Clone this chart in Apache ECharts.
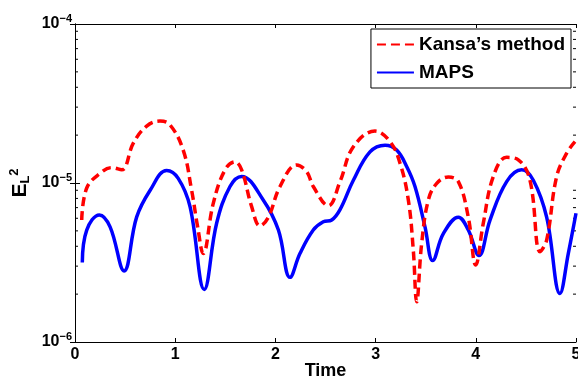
<!DOCTYPE html>
<html>
<head>
<meta charset="utf-8">
<script src="https://cdn.jsdelivr.net/npm/echarts@6/dist/echarts.min.js"></script>
<style>
  html, body { margin: 0; padding: 0; background: #fff; }
  #main { width: 578px; height: 380px; }
</style>
</head>
<body>
<div id="main"></div>
<script>
(function () {
    'use strict';

    // values, [time, error]
    var kansaData = [
        [0.067, 5.85e-6], [0.117, 9.3e-6], [0.25, 1.15e-5], [0.366, 1.25e-5], [0.466, 1.21e-5],
        [0.582, 1.78e-5], [0.715, 2.28e-5], [0.848, 2.45e-5], [0.948, 2.32e-5], [1.08, 1.61e-5],
        [1.164, 9.0e-6], [1.224, 5.3e-6], [1.28, 3.6e-6], [1.38, 7.45e-6], [1.497, 1.21e-5],
        [1.597, 1.36e-5], [1.663, 1.21e-5], [1.763, 7.1e-6], [1.846, 5.37e-6], [1.93, 6.1e-6],
        [2.046, 9.5e-6], [2.212, 1.3e-5], [2.312, 1.18e-5], [2.378, 9.5e-6], [2.528, 7.2e-6],
        [2.645, 1.02e-5], [2.778, 1.69e-5], [2.994, 2.12e-5], [3.144, 1.82e-5], [3.244, 1.33e-5],
        [3.327, 7.8e-6], [3.376, 3.8e-6], [3.41, 1.79e-6], [3.46, 4.18e-6], [3.526, 7.8e-6],
        [3.61, 9.95e-6], [3.726, 1.09e-5], [3.826, 1.02e-5], [3.925, 6.1e-6], [3.999, 3.05e-6],
        [4.075, 5.6e-6], [4.175, 1.1e-5], [4.308, 1.45e-5], [4.424, 1.40e-5], [4.541, 1.04e-5],
        [4.641, 3.7e-6], [4.707, 4.38e-6], [4.807, 1.1e-5], [4.907, 1.54e-5], [4.99, 1.82e-5]
    ];
    var mapsData = [
        [0.073, 3.16e-6], [0.117, 5.06e-6], [0.243, 6.3e-6], [0.35, 5.3e-6], [0.49, 2.8e-6],
        [0.615, 6.1e-6], [0.75, 9.0e-6], [0.915, 1.2e-5], [1.03, 1.07e-5], [1.148, 7.1e-6],
        [1.29, 2.14e-6], [1.414, 5.6e-6], [1.547, 9.5e-6], [1.663, 1.1e-5], [1.88, 7.8e-6],
        [2.03, 5.06e-6], [2.146, 2.55e-6], [2.245, 3.6e-6], [2.378, 5.06e-6], [2.478, 5.7e-6],
        [2.562, 5.85e-6], [2.645, 6.8e-6], [2.778, 1.04e-5], [2.944, 1.57e-5], [3.094, 1.73e-5],
        [3.21, 1.61e-5], [3.31, 1.27e-5], [3.393, 9.5e-6], [3.493, 5.3e-6], [3.57, 3.25e-6],
        [3.676, 4.8e-6], [3.826, 6.1e-6], [3.925, 5.06e-6], [4.032, 3.5e-6], [4.142, 5.85e-6],
        [4.308, 1.02e-5], [4.458, 1.21e-5], [4.574, 1.04e-5], [4.707, 6.1e-6], [4.84, 2.02e-6],
        [4.923, 3.6e-6], [5.0, 6.45e-6]
    ];
    var seriesNames = ['Kansa\u2019s method', 'MAPS'];
    var xTicks = [0, 1, 2, 3, 4, 5];
    // log minor ticks (2..9 in each decade)
    var minorTicks = [2e-6, 3e-6, 4e-6, 5e-6, 6e-6, 7e-6, 8e-6, 9e-6,
                      2e-5, 3e-5, 4e-5, 5e-5, 6e-5, 7e-5, 8e-5, 9e-5];

    var FONT = 'Liberation Sans, Arial, sans-serif';

    var chart = echarts.init(document.getElementById('main'));

    var axisLine = { show: true, lineStyle: { color: '#000', width: 1 } };

    chart.setOption({
        backgroundColor: '#fff',
        animation: false,
        grid: { left: 75, top: 24, right: 2, bottom: 38, outerBoundsMode: 'none', containLabel: false },
        legend: {
            data: seriesNames,
            orient: 'vertical',
            right: 7,
            top: 29,
            itemWidth: 37,
            itemHeight: 10,
            itemGap: 9,
            padding: [6, 6, 6, 5],
            backgroundColor: '#fff',
            borderColor: '#000',
            borderWidth: 1,
            borderRadius: 0,
            itemStyle: { opacity: 0 },
            textStyle: { fontFamily: FONT, fontWeight: 'bold', fontSize: 19, color: '#000' }
        },
        xAxis: [{
            type: 'value',
            min: xTicks[0],
            max: xTicks[xTicks.length - 1],
            interval: 1,
            name: 'Time',
            nameLocation: 'middle',
            nameGap: 20,
            nameMoveOverlap: false,
            nameTextStyle: { fontFamily: FONT, fontWeight: 'bold', fontSize: 18, color: '#000' },
            axisLine: axisLine,
            axisTick: { inside: true, length: 4, lineStyle: { color: '#000' } },
            axisLabel: { margin: 5, fontFamily: FONT, fontWeight: 'bold', fontSize: 16, color: '#000' },
            splitLine: { show: false }
        }, {
            type: 'value',
            position: 'top',
            min: xTicks[0],
            max: xTicks[xTicks.length - 1],
            interval: 1,
            axisLine: axisLine,
            axisTick: { inside: true, length: 4, lineStyle: { color: '#000' } },
            axisLabel: { show: false },
            splitLine: { show: false }
        }],
        yAxis: [{
            type: 'log',
            logBase: 10,
            min: 1e-6,
            max: 1e-4,
            name: '{e|E}{sub|L}{sup|2}',
            nameLocation: 'middle',
            nameRotate: 90,
            nameGap: 42,
            nameMoveOverlap: false,
            nameTextStyle: {
                rich: {
                    e: { fontFamily: FONT, fontWeight: 'bold', fontSize: 21, color: '#000' },
                    sub: { fontFamily: FONT, fontWeight: 'bold', fontSize: 13, color: '#000', padding: [10, 0, 0, 0] },
                    sup: { fontFamily: FONT, fontWeight: 'bold', fontSize: 13, color: '#000', padding: [0, 0, 12, 0] }
                }
            },
            axisLine: axisLine,
            axisTick: { inside: true, length: 5, lineStyle: { color: '#000' } },
            axisLabel: {
                margin: 3,
                formatter: function (v) {
                    var e = Math.round(Math.log(v) / Math.LN10);
                    return '{b|10}{s|' + (e < 0 ? '\u2212' : '') + Math.abs(e) + '}';
                },
                rich: {
                    b: { fontFamily: FONT, fontWeight: 'bold', fontSize: 16, color: '#000' },
                    s: { fontFamily: FONT, fontWeight: 'bold', fontSize: 11, color: '#000', padding: [0, 0, 10, 0] }
                }
            },
            splitLine: { show: false }
        }, {
            type: 'log',
            logBase: 10,
            min: 1e-6,
            max: 1e-4,
            position: 'right',
            axisLine: axisLine,
            axisTick: { inside: true, length: 5, lineStyle: { color: '#000' } },
            axisLabel: { show: false },
            splitLine: { show: false }
        }],
        series: [{
            name: seriesNames[0],
            type: 'line',
            data: kansaData,
            smooth: 0.4,
            symbol: 'none',
            z: 3,
            lineStyle: { color: '#ff0000', width: 3.5, type: [9, 5] },
            itemStyle: { color: '#ff0000' }
        }, {
            name: seriesNames[1],
            type: 'line',
            data: mapsData,
            smooth: 0.4,
            symbol: 'none',
            z: 2,
            lineStyle: { color: '#0000ff', width: 3.5 },
            itemStyle: { color: '#0000ff' }
        }, {
            // minor log ticks on both y sides
            type: 'custom',
            silent: true,
            data: minorTicks,
            renderItem: function (params, api) {
                var y = api.coord([0, api.value(0)])[1];
                var cs = params.coordSys;
                var len = 3;
                var style = { stroke: '#000', lineWidth: 1 };
                return {
                    type: 'group',
                    children: [
                        { type: 'line', shape: { x1: cs.x, y1: y, x2: cs.x + len, y2: y }, style: style },
                        { type: 'line', shape: { x1: cs.x + cs.width, y1: y, x2: cs.x + cs.width - len, y2: y }, style: style }
                    ]
                };
            },
            encode: { y: 0 }
        }]
    });
})();
</script>
</body>
</html>
